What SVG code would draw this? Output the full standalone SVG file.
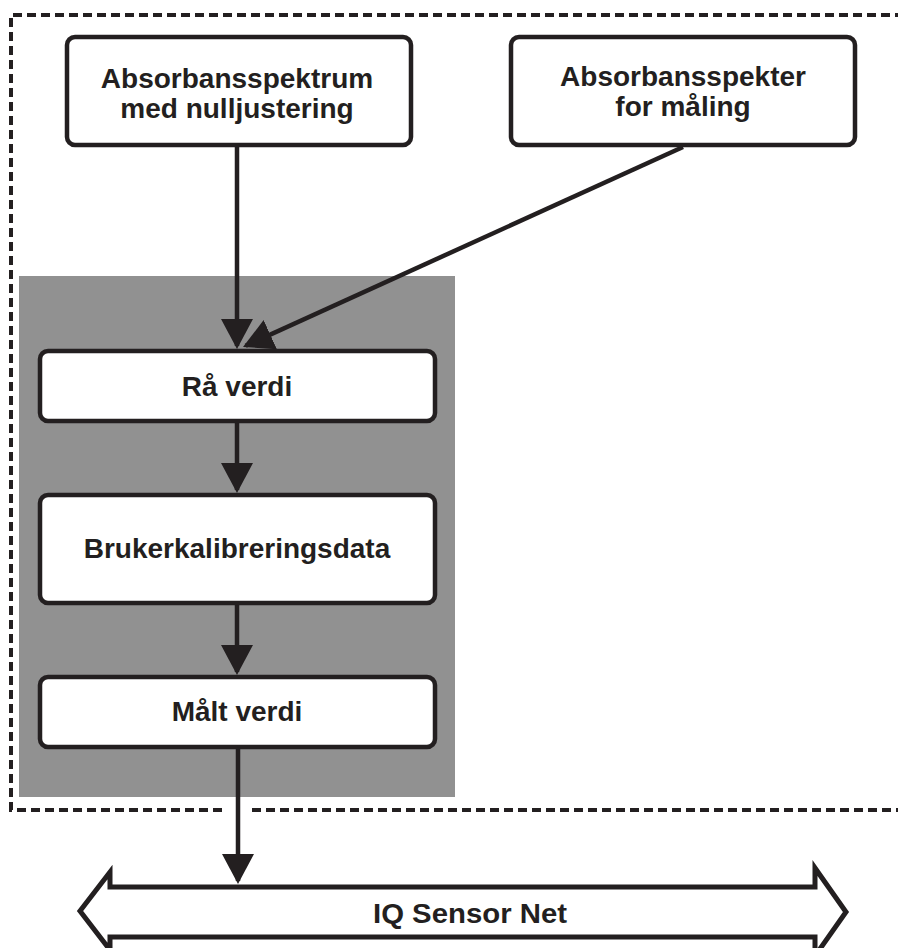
<svg xmlns="http://www.w3.org/2000/svg" width="898" height="948" viewBox="0 0 898 948">
<style>
.box{fill:#fff;stroke:#231f20;stroke-width:4.5}
.lbl{font-family:"Liberation Sans",Arial,Helvetica,sans-serif;font-weight:bold;font-size:28px;fill:#231f20;text-anchor:middle}
.dash{fill:none;stroke:#231f20;stroke-width:4;stroke-dasharray:9 5}
.conn{fill:none;stroke:#231f20;stroke-width:4.5}
</style>
<defs>
<marker id="ah" markerUnits="userSpaceOnUse" markerWidth="30" markerHeight="32" refX="27" refY="16" orient="auto" viewBox="0 0 30 32">
<path d="M0,0 L30,16 L0,32 z" fill="#231f20"/>
</marker>
</defs>
<rect width="898" height="948" fill="#fff"/>
<g id="boundary">
<path class="dash" d="M222,810 L11,810 L11,15 L905,15"/>
<path class="dash" d="M252,810 L905,810"/>
</g>
<rect id="processing-area" x="19" y="276" width="436" height="521" fill="#919191"/>
<g id="connectors">
<line class="conn" x1="237" y1="147" x2="237" y2="346" marker-end="url(#ah)"/>
<line class="conn" x1="683" y1="147" x2="245.7" y2="345.8" marker-end="url(#ah)"/>
<line class="conn" x1="237" y1="423" x2="237" y2="490" marker-end="url(#ah)"/>
<line class="conn" x1="237" y1="605" x2="237" y2="672" marker-end="url(#ah)"/>
<line class="conn" x1="238" y1="749" x2="238" y2="881" marker-end="url(#ah)"/>
</g>
<g id="zero-spectrum">
<rect class="box" x="67" y="37" width="344" height="108" rx="8"/>
<text class="lbl" x="237" y="88">Absorbansspektrum</text>
<text class="lbl" x="237" y="118">med nulljustering</text>
</g>
<g id="measure-spectrum">
<rect class="box" x="511" y="37" width="344" height="108" rx="8"/>
<text class="lbl" x="683" y="86">Absorbansspekter</text>
<text class="lbl" x="683" y="116">for måling</text>
</g>
<g id="raw-value">
<rect class="box" x="40" y="351" width="395" height="70" rx="8"/>
<text class="lbl" x="237" y="396">Rå verdi</text>
</g>
<g id="user-calibration">
<rect class="box" x="40" y="495" width="395" height="108" rx="8"/>
<text class="lbl" x="237" y="558">Brukerkalibreringsdata</text>
</g>
<g id="measured-value">
<rect class="box" x="40" y="677" width="395" height="70" rx="8"/>
<text class="lbl" x="237" y="721">Målt verdi</text>
</g>
<g id="iq-sensor-net">
<polygon points="110,887 815,887 815,868 846,912 815,956 815,937 110,937 110,950 80,911 110,872" fill="#fff" stroke="#231f20" stroke-width="5"/>
<text class="lbl" x="470" y="923" font-size="30" textLength="194" lengthAdjust="spacingAndGlyphs">IQ Sensor Net</text>
</g>
</svg>
